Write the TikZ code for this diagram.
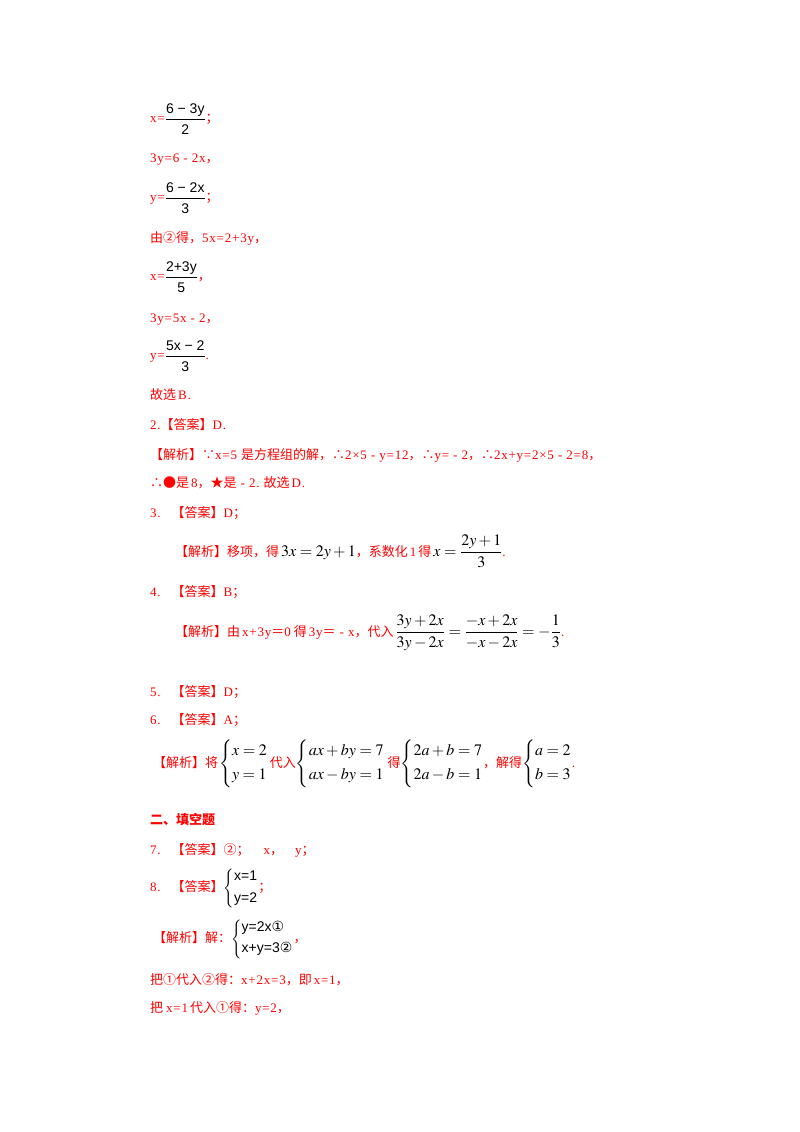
\documentclass[tikz,border=0pt]{standalone}
\usepackage{amsmath}
\usepackage{mathptmx}
\usepackage[no-math]{fontspec}
\setmainfont[LetterSpace=6]{Liberation Serif}
\newfontfamily\cjk{Noto Sans CJK SC}
\newfontfamily\pic{Liberation Sans}
\newfontfamily\sym{DejaVu Sans}
\newcommand{\zh}[1]{{\cjk #1}}
\newcommand{\mth}[1]{{\color{black}\fontsize{16}{19}\selectfont$#1$}}
\newcommand{\ptxt}[1]{\text{\pic\fontsize{14}{16}\selectfont #1}}
\newcommand{\pfrac}[2]{{\color{black}$\dfrac{\ptxt{#1}\rule[-3pt]{0pt}{12pt}}{\ptxt{#2}\rule{0pt}{13pt}}$}}
\newcommand{\sys}[3][3pt]{\left\{\begin{array}{@{}l@{}}#2\\[#1]#3\end{array}\right.}
\begin{document}
\begin{tikzpicture}[x=1pt,y=-1pt,
  line/.style={anchor=base west,inner sep=0pt,text=red},
  font=\fontsize{13}{15}\selectfont]
  \useasboundingbox (0,0) rectangle (800,1132);
  % solving for x and y
  \node[line] (xfrac)  at (150,122.5) {x=\pfrac{6 − 3y}{2}\zh{；}};
  \node[line] (stepa)  at (150,162.5) {3y=6 - 2x\zh{，}};
  \node[line] (yfrac)  at (150,201.5) {y=\pfrac{6 − 2x}{3}\zh{；}};
  \node[line] (fromb)  at (150,242.5) {\zh{由②得，}5x=2+3y\zh{，}};
  \node[line] (xfracb) at (150,280.5) {x=\pfrac{2+3y}{5}\zh{，}};
  \node[line] (stepb)  at (150,322.5) {3y=5x - 2\zh{，}};
  \node[line] (yfracb) at (150,359.5) {y=\pfrac{5x − 2}{3}.};
  \node[line] (choose) at (150,399.5) {\zh{故选}\hspace{2pt}B.};
  % answers 2 to 6
  \node[line] (ansb)   at (150,429.5) {2.\zh{【答案】}D.};
  \node[line] (expb)   at (150,459.5) {\zh{【解析】∵}x=5\hspace{4pt}\zh{是方程组的解，∴}2×5 - y=12\zh{，∴}y= - 2\zh{，∴}2x+y=2×5 - 2=8\zh{，}};
  \node[line] (expbb)  at (150,487.5) {\zh{∴●是}\hspace{2pt}8\zh{，★是} - 2.\hspace{4pt}\zh{故选}\hspace{2pt}D.};
  \node[line] (ansc)   at (150,517.5) {3.\hspace{11pt}\zh{【答案】}D\zh{；}};
  \node[line] (expc)   at (175,556.5) {\zh{【解析】移项，得}\hspace{2pt}\mth{3x=2y+1}\zh{，系数化}\hspace{2pt}1\hspace{2pt}\zh{得}\hspace{2pt}\mth{x=\dfrac{2y+1}{3}}.};
  \node[line] (ansd)   at (150,596.5) {4.\hspace{11pt}\zh{【答案】}B\zh{；}};
  \node[line] (expd)   at (175,636.5) {\zh{【解析】由}\hspace{2pt}x+3y\zh{＝}0\hspace{3pt}\zh{得}\hspace{2pt}3y\zh{＝} - x\zh{，代入}\hspace{2pt}\mth{\dfrac{3y+2x}{3y-2x}=\dfrac{-x+2x}{-x-2x}=-\dfrac{1}{3}}.};
  \node[line] (anse)   at (150,696.5) {5.\hspace{11pt}\zh{【答案】}D\zh{；}};
  \node[line] (ansf)   at (150,724.5) {6.\hspace{11pt}\zh{【答案】}A\zh{；}};
  \node[line] (expf)   at (153,767.5) {\zh{【解析】将}\hspace{1pt}\mth{\sys[5pt]{x=2}{y=1}}\hspace{2pt}\zh{代入}\mth{\sys[5pt]{ax+by=7}{ax-by=1}}\hspace{3pt}\zh{得}\mth{\sys[5pt]{2a+b=7}{2a-b=1}}\zh{，解得}\mth{\sys[5pt]{a=2}{b=3}}.};
  % fill in the blanks
  \node[line] (part)   at (150,824.5) {\cjk\bfseries 二、填空题};
  \node[line] (ansg)   at (150,854.5) {7.\hspace{11pt}\zh{【答案】②；}\hspace{14pt}x\zh{，}\hspace{12pt}y\zh{；}};
  \node[line] (ansh)   at (150,891.5) {8.\hspace{11pt}\zh{【答案】}{\color{black}$\sys[7pt]{\ptxt{x=1}}{\ptxt{y=2}}$}\zh{；}};
  \node[line] (exph)   at (153,942.5) {\zh{【解析】解：}{\color{black}$\sys[6pt]{\ptxt{y=2x\sym①}}{\ptxt{x+y=3\sym②}}$}\zh{，}};
  \node[line] (subst)  at (150,984.5) {\zh{把①代入②得：}x+2x=3\zh{，即}\hspace{2pt}x=1\zh{，}};
  \node[line] (substb) at (150,1012.5) {\zh{把}\hspace{3pt}x=1\hspace{2pt}\zh{代入①得：}y=2\zh{，}};
\end{tikzpicture}
\end{document}
